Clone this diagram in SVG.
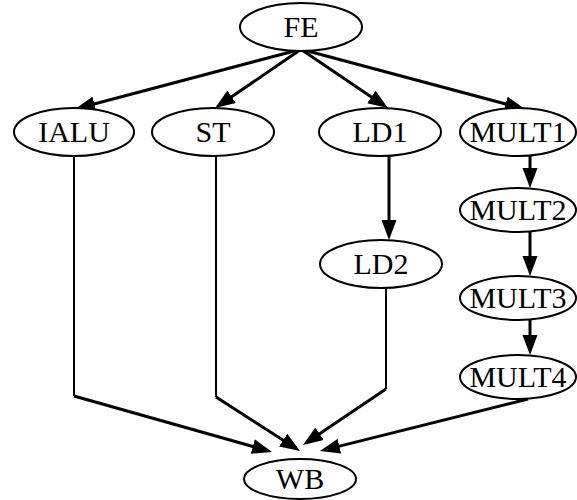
<svg xmlns="http://www.w3.org/2000/svg" width="577" height="500" viewBox="0 0 577 500">
  <style>
    .node ellipse { fill: #ffffff; stroke: #000000; stroke-width: 2; }
    .node text { font-family: "Liberation Serif", "Times New Roman", serif; font-size: 30px; fill: #000000; text-anchor: middle; }
    .edge { fill: none; stroke: #000000; stroke-width: 3; }
    .thin { fill: none; stroke: #000000; stroke-width: 2; }
  </style>
  <defs>
    <marker id="arrow" markerUnits="userSpaceOnUse" markerWidth="20" markerHeight="16" refX="8" refY="8" orient="auto">
      <path d="M0,0.5 L20,8 L0,15.5 z" fill="#000000"/>
    </marker>
  </defs>

  <g id="connectors">
    <!-- FE fan-out -->
    <line class="edge" x1="298" y1="50" x2="86.6" y2="106" marker-end="url(#arrow)"/>
    <line class="edge" x1="300" y1="50" x2="225" y2="101.3" marker-end="url(#arrow)"/>
    <line class="edge" x1="302" y1="50" x2="378" y2="101.4" marker-end="url(#arrow)"/>
    <line class="edge" x1="304" y1="50" x2="513.4" y2="106" marker-end="url(#arrow)"/>
    <!-- load pipeline -->
    <line class="edge" x1="389" y1="156" x2="389" y2="228" marker-end="url(#arrow)"/>
    <!-- multiplier pipeline -->
    <line class="edge" x1="530" y1="156" x2="530" y2="176" marker-end="url(#arrow)"/>
    <line class="edge" x1="530" y1="232" x2="530" y2="264" marker-end="url(#arrow)"/>
    <line class="edge" x1="530" y1="320" x2="530" y2="343" marker-end="url(#arrow)"/>
    <!-- write-back merges -->
    <line class="thin" x1="74" y1="156" x2="74" y2="396"/>
    <line class="edge" x1="74" y1="396" x2="260.5" y2="448.7" marker-end="url(#arrow)"/>
    <line class="thin" x1="216" y1="156" x2="216" y2="397"/>
    <line class="edge" x1="216" y1="397" x2="289.9" y2="444.5" marker-end="url(#arrow)"/>
    <line class="thin" x1="386" y1="288" x2="386" y2="389"/>
    <line class="edge" x1="386" y1="389" x2="312.9" y2="438.3" marker-end="url(#arrow)"/>
    <line class="edge" x1="528" y1="399" x2="331.6" y2="448.1" marker-end="url(#arrow)"/>
  </g>

  <g id="FE" class="node">
    <ellipse cx="301" cy="27" rx="61" ry="24"/>
    <text x="301" y="37">FE</text>
  </g>
  <g id="IALU" class="node">
    <ellipse cx="74" cy="132" rx="60" ry="24"/>
    <text x="74" y="142">IALU</text>
  </g>
  <g id="ST" class="node">
    <ellipse cx="213" cy="132" rx="61" ry="24"/>
    <text x="213" y="142">ST</text>
  </g>
  <g id="LD1" class="node">
    <ellipse cx="380" cy="132" rx="61" ry="24"/>
    <text x="380" y="142">LD1</text>
  </g>
  <g id="MULT1" class="node">
    <ellipse cx="518" cy="132" rx="58" ry="24"/>
    <text x="518" y="142">MULT1</text>
  </g>
  <g id="MULT2" class="node">
    <ellipse cx="518" cy="210" rx="58" ry="22"/>
    <text x="518" y="220">MULT2</text>
  </g>
  <g id="LD2" class="node">
    <ellipse cx="381" cy="264" rx="61" ry="24"/>
    <text x="381" y="274">LD2</text>
  </g>
  <g id="MULT3" class="node">
    <ellipse cx="518" cy="298" rx="58" ry="22"/>
    <text x="518" y="308">MULT3</text>
  </g>
  <g id="MULT4" class="node">
    <ellipse cx="518" cy="377" rx="58" ry="22"/>
    <text x="518" y="387">MULT4</text>
  </g>
  <g id="WB" class="node">
    <ellipse cx="300" cy="479" rx="56" ry="20"/>
    <text x="300" y="489">WB</text>
  </g>
</svg>
